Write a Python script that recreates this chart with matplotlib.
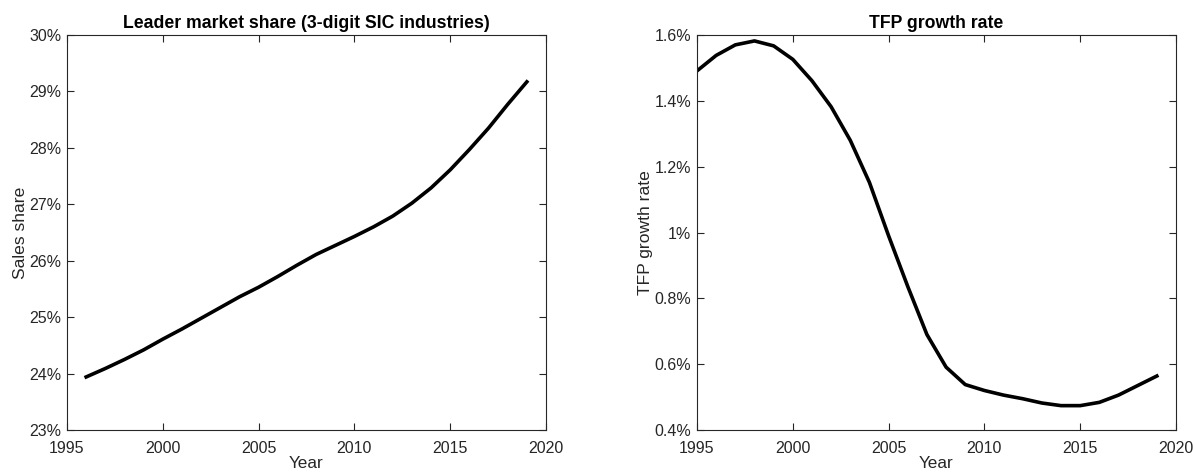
import numpy as np
import matplotlib
matplotlib.use('Agg')
from matplotlib import pyplot as plt
from matplotlib.ticker import FuncFormatter

plt.rcParams['font.family'] = ['Liberation Sans', 'DejaVu Sans']

# leader market share, 3-digit SIC industries (percent)
share_years = np.arange(1996, 2020)
share_vals = [23.94, 24.09, 24.25, 24.42, 24.61, 24.79, 24.98, 25.17, 25.36, 25.53,
              25.72, 25.92, 26.11, 26.27, 26.43, 26.60, 26.79, 27.02, 27.29, 27.61,
              27.97, 28.35, 28.77, 29.17]

# TFP growth rate (percent)
tfp_years = np.arange(1995, 2020)
tfp_vals = [1.491, 1.538, 1.570, 1.582, 1.567, 1.526, 1.461, 1.382, 1.280, 1.152,
            0.990, 0.836, 0.690, 0.591, 0.538, 0.520, 0.506, 0.495, 0.482, 0.474,
            0.474, 0.484, 0.506, 0.535, 0.564]

x_ticks = [1995, 2000, 2005, 2010, 2015, 2020]
share_ticks = [23, 24, 25, 26, 27, 28, 29, 30]
tfp_ticks = [0.4, 0.6, 0.8, 1.0, 1.2, 1.4, 1.6]

pct = FuncFormatter(lambda v, pos: '{:g}%'.format(round(v, 4)))


def style_axes(ax):
    for s in ax.spines.values():
        s.set_color('#262626')
        s.set_linewidth(0.8)
    ax.tick_params(direction='in', top=True, right=True, length=5, width=0.8,
                   colors='#262626', labelsize=11.5, labelcolor='#262626')
    ax.tick_params(axis='x', pad=8)
    ax.tick_params(axis='y', pad=4)


fig = plt.figure(figsize=(11.93, 4.74), dpi=100)

ax1 = fig.add_axes([67 / 1193, 44 / 474, 479 / 1193, 395 / 474])
ax1.plot(share_years, share_vals, color='black', linewidth=2.6)
ax1.set_xlim(1995, 2020)
ax1.set_ylim(23, 30)
ax1.set_xticks(x_ticks)
ax1.set_yticks(share_ticks)
ax1.yaxis.set_major_formatter(pct)
ax1.set_title('Leader market share (3-digit SIC industries)', fontsize=12.7, fontweight='bold', pad=5)
ax1.set_xlabel('Year', fontsize=12.3, color='#262626', labelpad=0)
ax1.set_ylabel('Sales share', fontsize=12.6, color='#262626', labelpad=1)
style_axes(ax1)

ax2 = fig.add_axes([697 / 1193, 44 / 474, 479 / 1193, 395 / 474])
ax2.plot(tfp_years, tfp_vals, color='black', linewidth=2.6)
ax2.set_xlim(1995, 2020)
ax2.set_ylim(0.4, 1.6)
ax2.set_xticks(x_ticks)
ax2.set_yticks(tfp_ticks)
ax2.yaxis.set_major_formatter(pct)
ax2.set_title('TFP growth rate', fontsize=12.7, fontweight='bold', pad=5)
ax2.set_xlabel('Year', fontsize=12.3, color='#262626', labelpad=0)
ax2.set_ylabel('TFP growth rate', fontsize=12.6, color='#262626', labelpad=1)
style_axes(ax2)

fig.savefig('out.png', dpi=100)
plt.close()
